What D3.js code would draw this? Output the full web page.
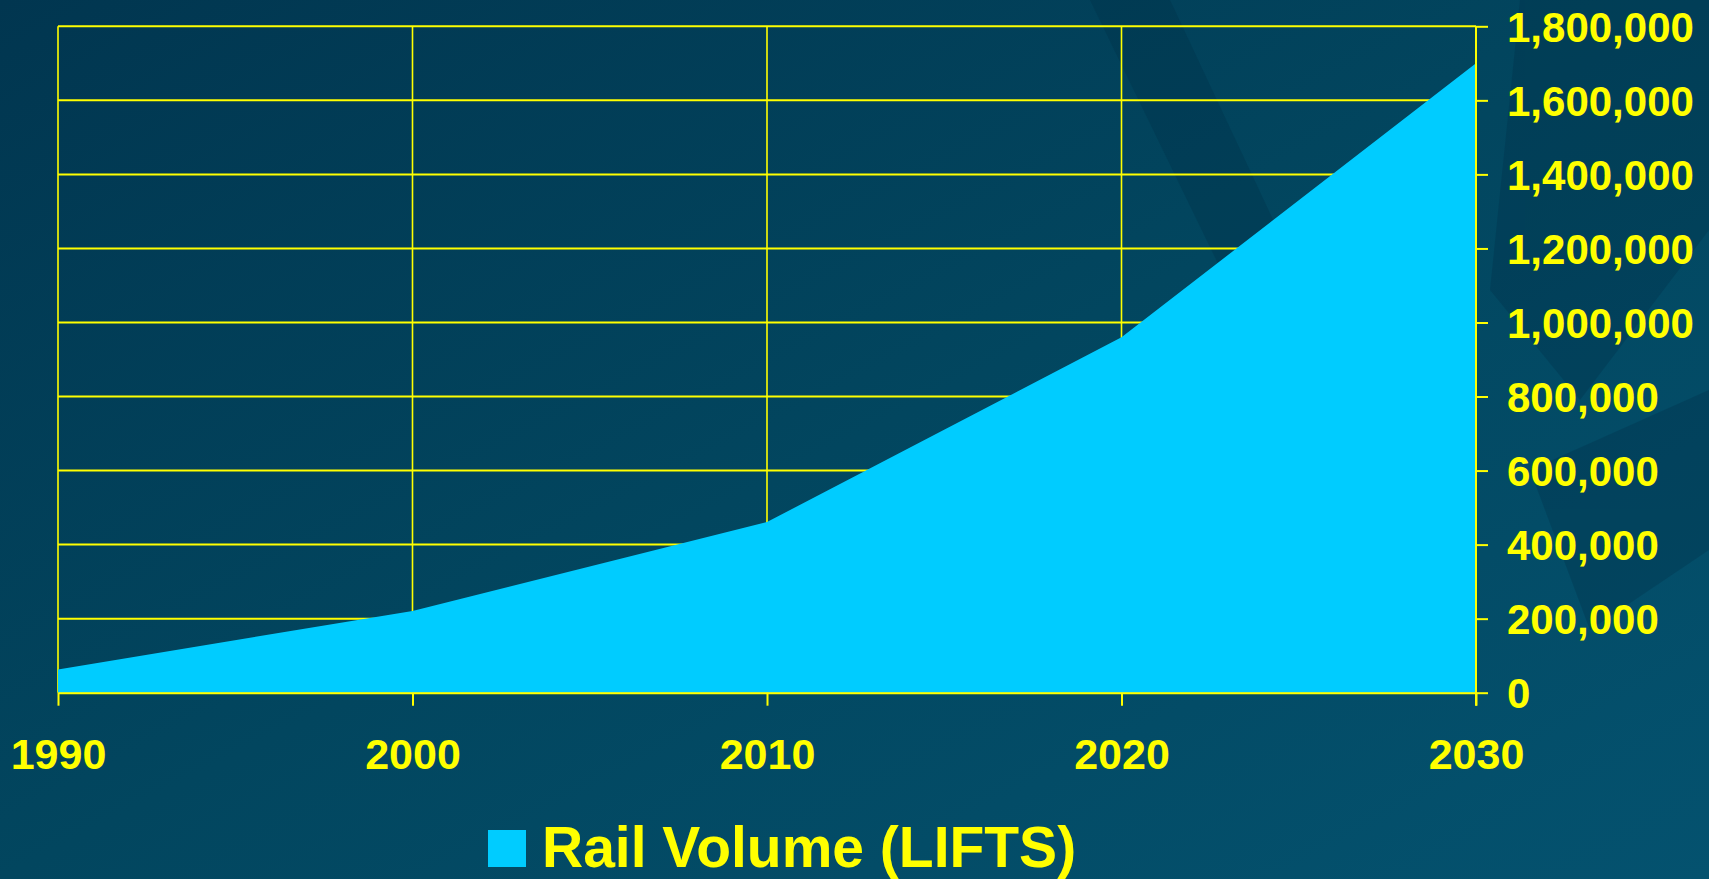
<!DOCTYPE html>
<html>
<head>
<meta charset="utf-8">
<script src="https://cdn.jsdelivr.net/npm/d3@7"></script>
<style>
html,body{margin:0;padding:0;overflow:hidden;background:#013b56;}
svg{display:block;}
</style>
</head>
<body>
<svg id="chart" width="1709" height="879"></svg>
<script>
// Data
const years = [1990, 2000, 2010, 2020, 2030];
const railVolume = [63000, 221000, 461000, 960000, 1700000];
const yTicks = [0, 200000, 400000, 600000, 800000, 1000000, 1200000, 1400000, 1600000, 1800000];
const seriesName = "Rail Volume (LIFTS)";

const W = 1709, H = 879;
const margin = {left: 58, right: 1476, top: 26.3, bottom: 692.7};
const YELLOW = "#FFFF00", FILL = "#00CCFF";

const svg = d3.select("#chart");
const defs = svg.append("defs");
const bg = defs.append("linearGradient").attr("id","bg").attr("x1","0").attr("y1","0").attr("x2","1").attr("y2","1");
bg.append("stop").attr("offset","0%").attr("stop-color","#013650");
bg.append("stop").attr("offset","50%").attr("stop-color","#02465f");
bg.append("stop").attr("offset","100%").attr("stop-color","#04526f");
svg.append("rect").attr("width",W).attr("height",H).attr("fill","url(#bg)");

// faint background silhouettes on the right
const shade = svg.append("g").attr("fill","#012d47").attr("opacity",0.3);
shade.append("path").attr("d","M1090,0 L1170,0 L1320,320 L1260,350 Z");
shade.append("path").attr("d","M1520,0 L1709,0 L1709,230 L1580,400 L1490,290 Z");
shade.append("path").attr("d","M1530,470 L1709,390 L1709,550 L1590,630 Z");

const x = d3.scaleLinear().domain([1990, 2030]).range([margin.left, margin.right]);
const y = d3.scaleLinear().domain([0, 1800000]).range([margin.bottom, margin.top]);

// grid
const grid = svg.append("g").attr("stroke", YELLOW).attr("fill","none");
grid.selectAll("line.h").data(yTicks).join("line").attr("stroke-width", 2)
  .attr("x1", margin.left).attr("x2", margin.right)
  .attr("y1", d => y(d)).attr("y2", d => y(d));
grid.selectAll("line.v").data(years).join("line").attr("stroke-width", 1.6)
  .attr("x1", d => x(d)).attr("x2", d => x(d))
  .attr("y1", margin.top).attr("y2", margin.bottom);

// area
const data = years.map((yr, i) => ({year: yr, v: railVolume[i]}));
const area = d3.area().x(d => x(d.year)).y0(y(0)).y1(d => y(d.v)).curve(d3.curveLinear);
svg.append("path").datum(data).attr("d", area).attr("fill", FILL);

// axes
const fontFam = "'Liberation Sans', Arial, Helvetica, sans-serif";
const xAxis = svg.append("g").attr("transform", `translate(0,${margin.bottom})`)
  .call(d3.axisBottom(x).tickValues(years).tickFormat(d3.format("d")).tickSize(13).tickSizeOuter(0).tickPadding(0));
const yAxis = svg.append("g").attr("transform", `translate(${margin.right},0)`)
  .call(d3.axisRight(y).tickValues(yTicks).tickFormat(d3.format(",")).tickSize(12).tickSizeOuter(0).tickPadding(0));

[xAxis, yAxis].forEach(g => {
  g.select(".domain").attr("stroke", YELLOW).attr("stroke-width", 2);
  g.selectAll(".tick line").attr("stroke", YELLOW).attr("stroke-width", 2);
  g.selectAll("text").attr("fill", YELLOW).attr("font-family", fontFam)
    .attr("font-weight", "bold");
});
xAxis.selectAll("text").attr("font-size", 43).attr("dy", null).attr("y", 76);
yAxis.selectAll("text").attr("font-size", 42).attr("x", 31).attr("dy", "0.35em");
yAxis.select(".domain").attr("d", `M0,${margin.top}V${margin.bottom + 13}`);

// legend
const leg = svg.append("g");
leg.append("rect").attr("x", 488).attr("y", 830).attr("width", 38).attr("height", 37).attr("fill", FILL);
leg.append("text").attr("x", 542).attr("y", 867).attr("fill", YELLOW)
  .attr("font-family", fontFam).attr("font-weight", "bold").attr("font-size", 57)
  .text(seriesName);
</script>
</body>
</html>
